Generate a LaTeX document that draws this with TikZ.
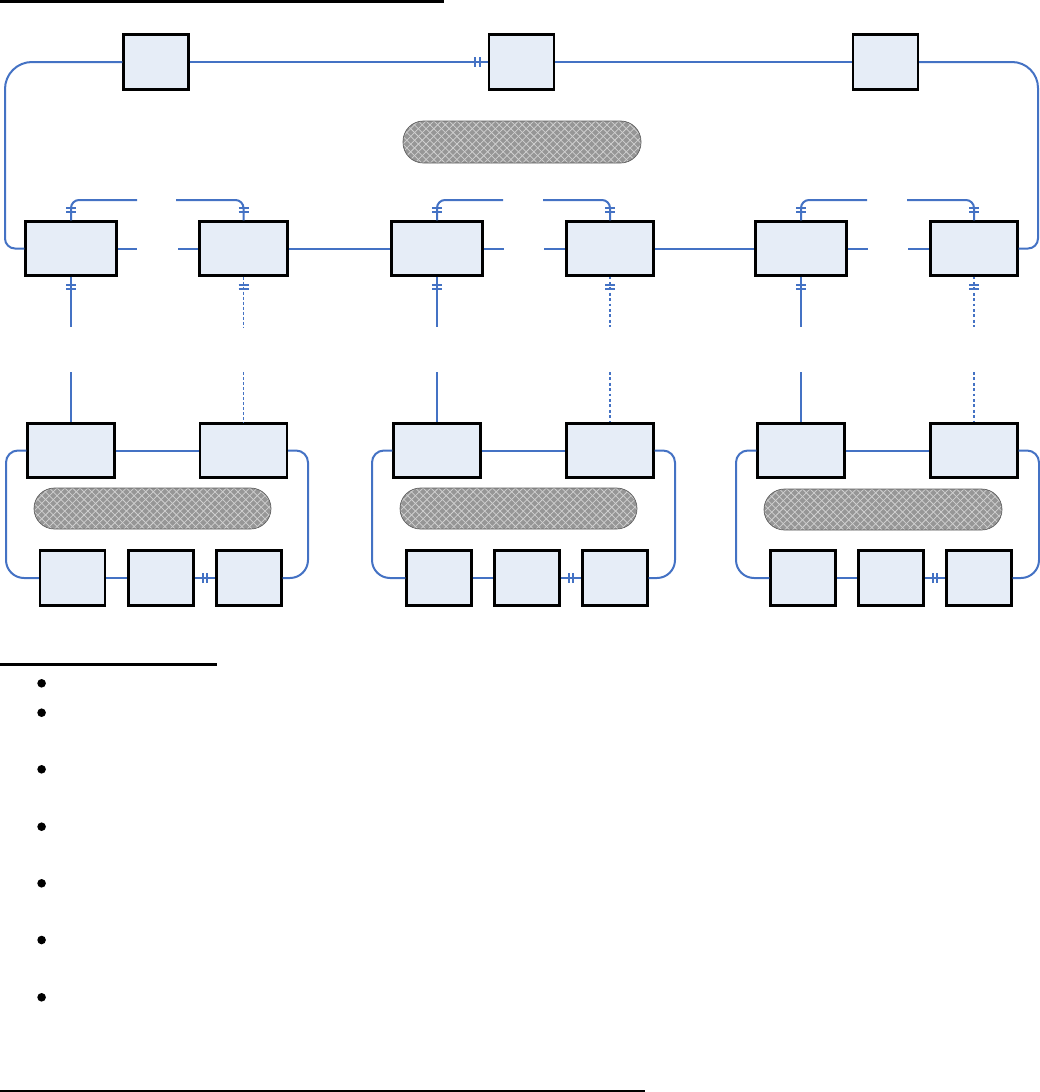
\documentclass[tikz,border=0pt]{standalone}
\usetikzlibrary{calc}
\definecolor{boxfill}{HTML}{E6EDF7}
\definecolor{lineblue}{HTML}{4472C4}
\definecolor{pillgray}{HTML}{969696}
\definecolor{pillline}{HTML}{D0D0D0}
\definecolor{pillborder}{HTML}{5F5F5F}
\tikzset{
  box/.style={rectangle, draw=black, line width=2.3pt, fill=boxfill, inner sep=0pt},
  pill/.style={rectangle, rounded corners=20.5pt, fill=pillgray, inner sep=0pt, outer sep=0pt},
  hatchline/.style={draw=pillline, line width=0.75pt},
  pillrim/.style={draw=pillborder, line width=0.7pt, rounded corners=20.5pt},
  conn/.style={draw=lineblue, line width=2pt},
  thindash/.style={draw=lineblue, line width=1pt, dash pattern=on 3pt off 2pt},
  thickdot/.style={draw=lineblue, line width=2pt, dash pattern=on 2.7pt off 2.7pt},
  tickmark/.style={draw=lineblue, line width=1.8pt},
  bulletdot/.style={circle, fill=black, inner sep=0pt, minimum size=8.6pt},
}
\newcommand\tickN[1]{\draw[tickmark] ($(#1.north)+(-5,-8)$) -- ++(10,0) ($(#1.north)+(-5,-12.5)$) -- ++(10,0);}
\newcommand\tickS[1]{\draw[tickmark] ($(#1.south)+(-5,8)$) -- ++(10,0) ($(#1.south)+(-5,12.5)$) -- ++(10,0);}
\newcommand\tickW[1]{\draw[tickmark] ($(#1.west)+(-8,-5)$) -- ++(0,10) ($(#1.west)+(-12.5,-5)$) -- ++(0,10);}
\newcommand\pillhatch[1]{%
  \begin{scope}
    \clip[rounded corners=20.5pt] (#1.north west) rectangle (#1.south east);
    \foreach \k in {-7,...,38} {
      \draw[hatchline] ($(#1.north west)+(\k*7.7,0)$) -- ++(46,46);
      \draw[hatchline] ($(#1.north west)+(\k*7.7,0)$) -- ++(-46,46);
    }
  \end{scope}
  \draw[pillrim] (#1.north west) rectangle (#1.south east);}
\begin{document}
\begin{tikzpicture}[x=1pt,y=-1pt]
\useasboundingbox (0,0) rectangle (1040,1092);

% header rule
\draw[line width=3pt] (0,1.5) -- (444,1.5);

% top boxes
\node[box, minimum width=65, minimum height=55] (T1) at (156,62) {};
\node[box, minimum width=65, minimum height=55] (T2) at (521.5,62) {};
\node[box, minimum width=65, minimum height=55] (T3) at (885.5,62) {};
\node[pill, minimum width=238, minimum height=42] (P0) at (522,142) {};
\pillhatch{P0}

% middle boxes
\foreach \n/\x/\w in {M1/71/91, M2/243.5/88, M3/437/91, M4/610/87, M5/801/91, M6/974/87}
  \node[box, minimum width=\w, minimum height=54] (\n) at (\x,248.5) {};

% lower groups: top pair
\foreach \n/\x in {L1a/71, L1b/243.5, L2a/437, L2b/610, L3a/801, L3b/974}
  \node[box, minimum width=87, minimum height=54] (\n) at (\x,450.5) {};
% pills
\node[pill, minimum width=237, minimum height=41] (P1) at (152.5,508.5) {};
\node[pill, minimum width=237, minimum height=41] (P2) at (518.5,508.5) {};
\node[pill, minimum width=238, minimum height=41] (P3) at (883,509.5) {};
\pillhatch{P1}
\pillhatch{P2}
\pillhatch{P3}
% bottom triples
\foreach \n/\x in {B11/72.5, B12/161, B13/249, B21/439, B22/527, B23/615, B31/803, B32/891, B33/979}
  \node[box, minimum width=65, minimum height=55] (\n) at (\x,578) {};

% top ring
\draw[conn] (T1.east) -- (T2.west);
\tickW{T2}
\draw[conn] (T2.east) -- (T3.west);
\coordinate (cL) at (5,150);
\coordinate (cR) at (1038,150);
\draw[conn, rounded corners=27pt] (T1.west) -| (cL);
\draw[conn, rounded corners=10pt] (cL) |- (M1.west);
\draw[conn, rounded corners=26pt] (T3.east) -| (cR);
\draw[conn, rounded corners=10pt] (cR) |- (M6.east);

% middle row links
\coordinate (s1a) at (137,248.5); \coordinate (s1b) at (178,248.5);
\coordinate (s2a) at (504,248.5); \coordinate (s2b) at (544,248.5);
\coordinate (s3a) at (868,248.5); \coordinate (s3b) at (908,248.5);
\draw[conn] (M1.east) -- (s1a);
\draw[conn] (s1b) -- (M2.west);
\draw[conn] (M2.east) -- (M3.west);
\draw[conn] (M3.east) -- (s2a);
\draw[conn] (s2b) -- (M4.west);
\draw[conn] (M4.east) -- (M5.west);
\draw[conn] (M5.east) -- (s3a);
\draw[conn] (s3b) -- (M6.west);

% upper connectors
\coordinate (u1a) at (137,200); \coordinate (u1b) at (176,200);
\coordinate (u2a) at (503,200); \coordinate (u2b) at (543,200);
\coordinate (u3a) at (867,200); \coordinate (u3b) at (907,200);
\draw[conn, rounded corners=8pt] (M1.north) |- (u1a);
\draw[conn, rounded corners=8pt] (u1b) -| (M2.north);
\draw[conn, rounded corners=8pt] (M3.north) |- (u2a);
\draw[conn, rounded corners=8pt] (u2b) -| (M4.north);
\draw[conn, rounded corners=8pt] (M5.north) |- (u3a);
\draw[conn, rounded corners=8pt] (u3b) -| (M6.north);
\foreach \n in {M1,M2,M3,M4,M5,M6} {\tickN{\n}}

% downward connectors
\foreach \n/\x in {1/71, 2/243.5, 3/437, 4/610, 5/801, 6/974} {
  \coordinate (d\n) at (\x,327);
  \coordinate (e\n) at (\x,372);
}
\draw[conn] (M1.south) -- (d1);  \draw[conn] (e1) -- (L1a.north);
\draw[thindash] (M2.south) -- (d2);  \draw[thindash] (e2) -- (L1b.north);
\draw[conn] (M3.south) -- (d3);  \draw[conn] (e3) -- (L2a.north);
\draw[thickdot] (M4.south) -- (d4);  \draw[thickdot] (e4) -- (L2b.north);
\draw[conn] (M5.south) -- (d5);  \draw[conn] (e5) -- (L3a.north);
\draw[thickdot] (M6.south) -- (d6);  \draw[thickdot] (e6) -- (L3b.north);
\foreach \n in {M1,M2,M3,M4,M5,M6} {\tickS{\n}}

% lower group links
\foreach \g/\la/\lb/\ba/\bb/\bc/\xl/\xr in {1/L1a/L1b/B11/B12/B13/6/308, 2/L2a/L2b/B21/B22/B23/372/675, 3/L3a/L3b/B31/B32/B33/736/1039} {
  \draw[conn] (\la.east) -- (\lb.west);
  \draw[conn] (\ba.east) -- (\bb.west);
  \draw[conn] (\bb.east) -- (\bc.west);
  \tickW{\bc}
  \coordinate (gl\g) at (\xl,515);
  \coordinate (gr\g) at (\xr,515);
  \draw[conn, rounded corners=12pt] (\la.west) -| (gl\g);
  \draw[conn, rounded corners=18pt] (gl\g) |- (\ba.west);
  \draw[conn, rounded corners=12pt] (\lb.east) -| (gr\g);
  \draw[conn, rounded corners=18pt] (gr\g) |- (\bc.east);
}

% legend
\draw[line width=2.5pt] (0,664.5) -- (217,664.5);
\foreach \i/\y in {1/683.3, 2/712.7, 3/769.3, 4/826.7, 5/883.3, 6/940, 7/997.3}
  \node[bulletdot] (bul\i) at (41.6,\y) {};
\draw[line width=2pt] (0,1091) -- (645,1091);
\end{tikzpicture}
\end{document}
